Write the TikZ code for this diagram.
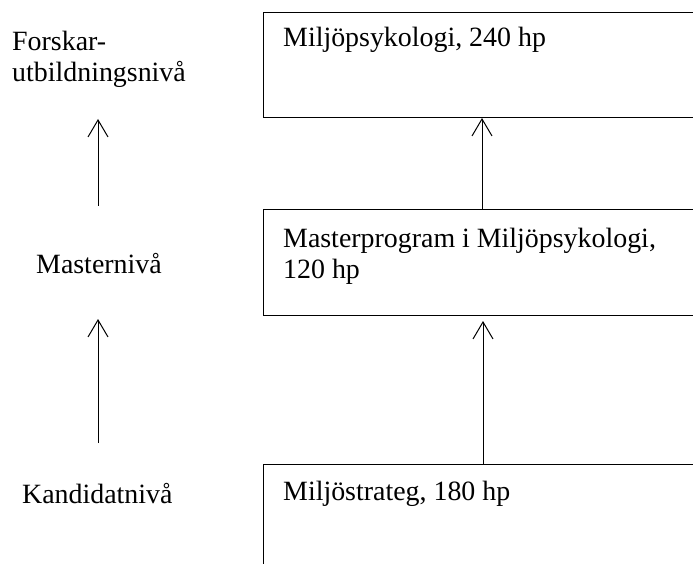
\documentclass[tikz,border=0pt]{standalone}
\usepackage{fontspec}
\setmainfont{Liberation Serif}
\usetikzlibrary{arrows.meta}
\tikzset{
  lbl/.style={anchor=base west, inner sep=0pt, font=\fontsize{27.9}{31}\selectfont},
  box/.style={draw, line width=1pt, anchor=north west, minimum width=470pt, inner sep=0pt},
  arr/.style={line width=1pt, -{Straight Barb[length=17pt,width=20pt,line width=1pt]}}
}
\begin{document}
\begin{tikzpicture}[x=1pt,y=-1pt]
\clip (0,0) rectangle (693,564);
\fill[white] (0,0) rectangle (693,564);
% boxes
\node[box, minimum height=105pt] (top) at (263,12) {};
\node[box, minimum height=106pt] (mid) at (263,209) {};
\node[box, minimum height=160pt] (bot) at (263,464) {};
% box texts
\node[lbl] (t1) at (283,47) {Miljöpsykologi, 240 hp};
\node[lbl] (t2a) at (283,247) {Masterprogram i Miljöpsykologi,};
\node[lbl] (t2b) at (283,278) {120 hp};
\node[lbl] (t3) at (283,500) {Miljöstrateg, 180 hp};
% left labels
\node[lbl] (l1a) at (12,51) {Forskar-};
\node[lbl] (l1b) at (12,82) {utbildningsnivå};
\node[lbl] (l2) at (36,273) {Masternivå};
\node[lbl] (l3) at (22,503) {Kandidatnivå};
% left arrow coordinates
\coordinate (la1s) at (98,206);
\coordinate (la1e) at (98,119);
\coordinate (la2s) at (98,443);
\coordinate (la2e) at (98,319);
% arrows
\draw[arr] ([xshift=219pt]mid.north west) -- ([xshift=219pt]top.south west);
\draw[arr] ([xshift=220pt]bot.north west) -- ([xshift=220pt,yshift=-5pt]mid.south west);
\draw[arr] (la1s) -- (la1e);
\draw[arr] (la2s) -- (la2e);
\end{tikzpicture}
\end{document}
